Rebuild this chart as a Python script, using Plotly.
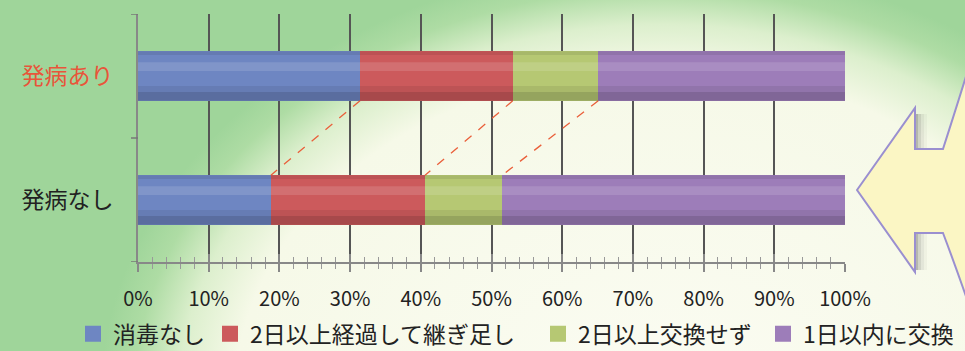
import base64
import plotly.graph_objects as go

categories = ["発病なし", "発病あり"]
series_names = ["消毒なし", "2日以上経過して継ぎ足し", "2日以上交換せず", "1日以内に交換"]
values_without = [18.8, 21.8, 10.9, 48.5]   # 発病なし
values_with = [31.4, 21.6, 12.1, 34.9]      # 発病あり
colors = ["#6e86c2", "#cc5a5c", "#b6c873", "#9d7db9"]
x_ticks = [0, 10, 20, 30, 40, 50, 60, 70, 80, 90, 100]
x_tick_labels = [f"{v}%" for v in x_ticks]

W, H = 965, 351
L, R, T, B = 138, 120, 14, 89
PW, PH = W - L - R, H - T - B
BAR_W = 0.40

def px(xp, yp):
    return (xp - L) / PW, (H - B - yp) / PH

legend_ids = ["legend", "legend2", "legend3", "legend4"]
legend_text_x = [113, 250, 578, 803]   # pixel where each legend label starts

fig = go.Figure()
for i, name in enumerate(series_names):
    fig.add_trace(go.Bar(
        y=[0, 1], x=[values_without[i], values_with[i]], name=name, orientation="h",
        marker=dict(color=colors[i], line=dict(width=0)), width=BAR_W, showlegend=False,
        legendgroup=name,
    ))
# legend entries with larger square symbols
for i, name in enumerate(series_names):
    fig.add_trace(go.Scatter(
        x=[None], y=[None], mode="markers", name=name, legendgroup=name, legend=legend_ids[i],
        marker=dict(symbol="square", size=16, color=colors[i]), showlegend=True,
    ))

# series lines
cum_w, cum_t = 0, 0
for i in range(len(series_names) - 1):
    cum_w += values_without[i]
    cum_t += values_with[i]
    fig.add_trace(go.Scatter(
        x=[cum_t, cum_w], y=[1 - BAR_W / 2, 0 + BAR_W / 2], mode="lines",
        line=dict(color="#ea5f3a", width=1.3, dash="dash"), showlegend=False, hoverinfo="skip",
    ))

# invisible trace for overlay axis
fig.add_trace(go.Scatter(x=[0, 100], y=[-0.5, -0.5], xaxis="x2", mode="lines",
                         line=dict(width=0), showlegend=False, hoverinfo="skip"))

shapes = []
# cylinder-like shading on bars
for yc in [0, 1]:
    shapes.append(dict(type="rect", xref="x", yref="y", x0=0, x1=100, y0=yc - BAR_W / 2, y1=yc - BAR_W / 2 + 0.07,
                       fillcolor="rgba(0,0,0,0.18)", line=dict(width=0), layer="above"))
    shapes.append(dict(type="rect", xref="x", yref="y", x0=0, x1=100, y0=yc - BAR_W / 2 + 0.07, y1=yc - BAR_W / 2 + 0.12,
                       fillcolor="rgba(0,0,0,0.07)", line=dict(width=0), layer="above"))
    shapes.append(dict(type="rect", xref="x", yref="y", x0=0, x1=100, y0=yc + 0.04, y1=yc + 0.11,
                       fillcolor="rgba(255,255,255,0.13)", line=dict(width=0), layer="above"))
    shapes.append(dict(type="rect", xref="x", yref="y", x0=0, x1=100, y0=yc + BAR_W / 2 - 0.03, y1=yc + BAR_W / 2,
                       fillcolor="rgba(0,0,0,0.08)", line=dict(width=0), layer="above"))

# arrow drop shadows
for (y_a, y_b) in [(114, 149), (233, 270)]:
    for xs, op in [(915, 0.35), (918, 0.2), (921, 0.1), (924, 0.04)]:
        a, b0 = px(xs, y_a)
        c, d = px(xs + 3, y_b)
        shapes.append(dict(type="rect", xref="paper", yref="paper", x0=a, x1=c, y0=d, y1=b0,
                           fillcolor=f"rgba(60,60,60,{op})", line=dict(width=0), layer="above"))

# arrow on the right
pts = {
    "tip": px(857, 190), "hu": px(915, 108), "su": px(915, 149), "su2": px(943, 149),
    "cu": px(953, 118), "eu": px(968, 70), "el": px(968, 302), "cl": px(954, 262),
    "sl2": px(943, 233), "sl": px(915, 233), "hl": px(915, 272),
}
def P(k):
    return f"{pts[k][0]:.4f},{pts[k][1]:.4f}"
path = (f"M {P('tip')} L {P('hu')} L {P('su')} L {P('su2')} Q {P('cu')} {P('eu')} "
        f"L {P('el')} Q {P('cl')} {P('sl2')} L {P('sl')} L {P('hl')} Z")
shapes.append(dict(type="path", xref="paper", yref="paper", path=path,
                   fillcolor="#fbf6c4", line=dict(color="#9a8fd0", width=2), layer="above"))
# y-axis tick marks at category boundaries
for yv in [-0.5, 0.5, 1.5]:
    shapes.append(dict(type="line", xref="paper", yref="y", x0=-7 / PW, x1=0, y0=yv, y1=yv,
                       line=dict(color="#777", width=1.5)))

# background gradient as svg image
svg = f'''<svg xmlns="http://www.w3.org/2000/svg" width="{W}" height="{H}" viewBox="0 0 {W} {H}">
<defs><radialGradient id="g" cx="660" cy="400" r="560" gradientUnits="userSpaceOnUse"
 gradientTransform="translate(660 400) scale(1 0.78) translate(-660 -400)">
<stop offset="0" stop-color="#fbfcf2"/><stop offset="0.76" stop-color="#f6f9e8"/>
<stop offset="0.86" stop-color="#dcefcd"/><stop offset="0.94" stop-color="#aedca4"/>
<stop offset="1" stop-color="#9fd59a"/></radialGradient></defs>
<rect width="{W}" height="{H}" fill="#9fd59a"/><rect width="{W}" height="{H}" fill="url(#g)"/></svg>'''
src = "data:image/svg+xml;base64," + base64.b64encode(svg.encode()).decode()
x0p, y0p = px(0, 0)
images = [dict(source=src, xref="paper", yref="paper", x=x0p, y=y0p, sizex=W / PW, sizey=H / PH,
               xanchor="left", yanchor="top", sizing="stretch", layer="below")]

legend_layouts = {}
for lid, tx in zip(legend_ids, legend_text_x):
    legend_layouts[lid] = dict(orientation="h", x=(tx - 40 - L) / PW, xanchor="left", y=-0.29, yanchor="middle",
                               font=dict(size=23, color="#222"), bgcolor="rgba(0,0,0,0)", itemwidth=30)

fig.update_layout(
    width=W, height=H, margin=dict(l=L, r=R, t=T, b=B, autoexpand=False),
    barmode="stack", bargap=0,
    paper_bgcolor="#9fd59a", plot_bgcolor="rgba(0,0,0,0)",
    font=dict(family="Noto Sans CJK JP", size=19, color="#222"),
    images=images, shapes=shapes,
    xaxis=dict(range=[0, 100], tickvals=x_ticks, ticktext=x_tick_labels, showgrid=True,
               gridcolor="#555", gridwidth=1.6, zeroline=False, showline=True, linecolor="#888",
               linewidth=2, ticks="outside", ticklen=8, tickcolor="#888", tickwidth=2,
               ticklabelstandoff=10, tickfont=dict(size=20, color="#222"),
               minor=dict(dtick=2, ticks="outside", ticklen=5, tickcolor="#999", tickwidth=1.2, showgrid=False),
               fixedrange=True),
    xaxis2=dict(range=[0, 100], overlaying="x", side="bottom", anchor="y", showgrid=False, zeroline=False,
                showticklabels=False, tickvals=x_ticks, ticks="inside", ticklen=8, tickcolor="#888", tickwidth=2,
                minor=dict(dtick=2, ticks="inside", ticklen=5, tickcolor="#999", tickwidth=1.2)),
    yaxis=dict(range=[-0.5, 1.5], tickvals=[0, 1],
               ticktext=[categories[0], f"<span style='color:#e8553a'>{categories[1]}</span>"],
               showgrid=False, zeroline=False, showline=True, linecolor="#888", linewidth=2,
               ticks="", ticklabelstandoff=18, tickfont=dict(size=23, color="#222"), fixedrange=True),
    showlegend=True,
    **legend_layouts,
)
fig.write_html("out.html")
